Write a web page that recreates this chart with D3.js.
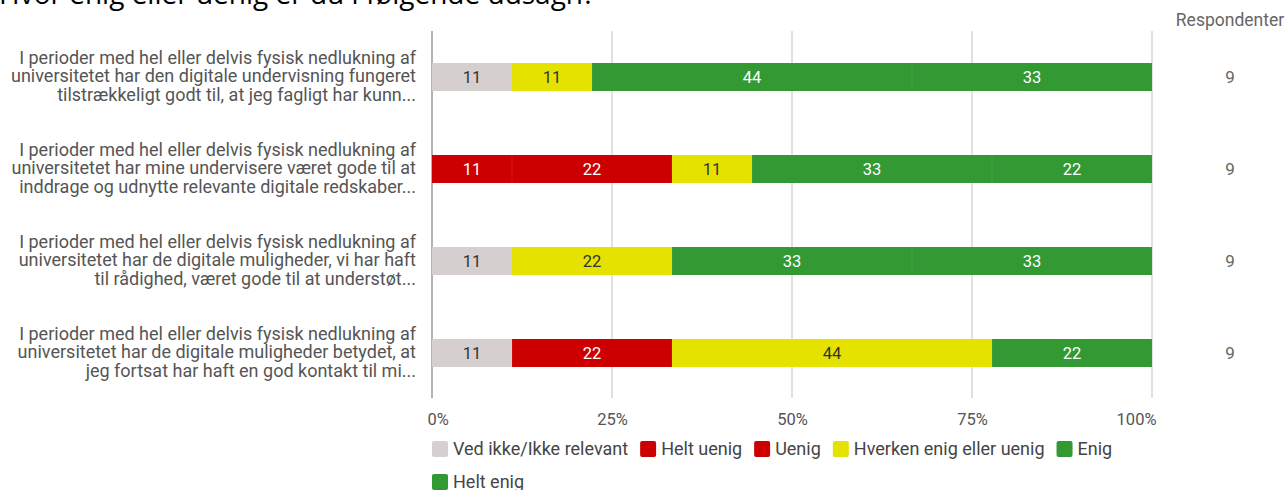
<!DOCTYPE html>
<html>
<head>
<meta charset="utf-8">
<script src="https://cdn.jsdelivr.net/npm/d3@7"></script>
<style>
  html, body { margin: 0; padding: 0; background: #fff; }
  svg { display: block; }
</style>
</head>
<body>
<svg id="chart" width="1288" height="490"></svg>
<script>
const title = "Hvor enig eller uenig er du i følgende udsagn?";
const questions = [
  ["I perioder med hel eller delvis fysisk nedlukning af", "universitetet har den digitale undervisning fungeret", "tilstrækkeligt godt til, at jeg fagligt har kunn..."],
  ["I perioder med hel eller delvis fysisk nedlukning af", "universitetet har mine undervisere været gode til at", "inddrage og udnytte relevante digitale redskaber..."],
  ["I perioder med hel eller delvis fysisk nedlukning af", "universitetet har de digitale muligheder, vi har haft", "til rådighed, været gode til at understøt..."],
  ["I perioder med hel eller delvis fysisk nedlukning af", "universitetet har de digitale muligheder betydet, at", "jeg fortsat har haft en god kontakt til mi..."]
];
const seriesNames = ["Ved ikke/Ikke relevant", "Helt uenig", "Uenig", "Hverken enig eller uenig", "Enig", "Helt enig"];
const seriesColors = ["#d6cfcf", "#cc0000", "#cc0000", "#e6e200", "#339933", "#339933"];
const seriesTextColors = ["#333", "#fff", "#fff", "#333", "#fff", "#fff"];
// percent values shown in each segment (per question)
const vedIkke    = [11, 0, 11, 11];
const heltUenig  = [0, 11, 0, 0];
const uenig      = [0, 22, 0, 22];
const hverken    = [11, 11, 22, 44];
const enig       = [44, 33, 33, 22];
const heltEnig   = [33, 22, 33, 0];
const respondents = [9, 9, 9, 9];
const tickValues = [0, 0.25, 0.5, 0.75, 1];
const tickLabels = ["0%", "25%", "50%", "75%", "100%"];
const respHeader = "Respondenter";

const seriesValues = [vedIkke, heltUenig, uenig, hverken, enig, heltEnig];
const table = questions.map((q, i) => {
  const row = { idx: i };
  seriesNames.forEach((s, j) => row[s] = seriesValues[j][i]);
  return row;
});

const svg = d3.select("#chart");
const font = "Roboto, 'Noto Sans', sans-serif";

const x = d3.scaleLinear().domain([0, 1]).range([432, 1152]);
const y = d3.scaleBand().domain(d3.range(questions.length)).range([31, 399]).paddingInner(0.696).paddingOuter(0.348);

// title (cut off at top as in reference)
svg.append("text").attr("x", -1).attr("y", 4)
  .attr("font-family", "'Open Sans', sans-serif").attr("font-size", 28).attr("fill", "#000")
  .text(title);

// gridlines
svg.append("g").selectAll("line").data(tickValues).join("line")
  .attr("x1", d => x(d)).attr("x2", d => x(d))
  .attr("y1", 31).attr("y2", 398)
  .attr("stroke", d => d === 0 ? "#999" : "#ccc").attr("stroke-width", d => d === 0 ? 1.5 : 1.2);

// stacked bars
const stack = d3.stack().keys(seriesNames).offset(d3.stackOffsetExpand);
const stacked = stack(table);

const g = svg.append("g");
stacked.forEach((layer, j) => {
  const lg = g.append("g");
  layer.forEach((seg, i) => {
    const w = x(seg[1]) - x(seg[0]);
    if (w <= 0.01) return;
    lg.append("rect")
      .attr("x", x(seg[0])).attr("y", y(i))
      .attr("width", w).attr("height", y.bandwidth())
      .attr("fill", seriesColors[j]);
    lg.append("text")
      .attr("x", (x(seg[0]) + x(seg[1])) / 2).attr("y", y(i) + y.bandwidth() / 2)
      .attr("dy", "0.36em").attr("text-anchor", "middle")
      .attr("font-family", font).attr("font-size", 16.5)
      .attr("fill", seriesTextColors[j])
      .text(seriesValues[j][i]);
  });
});
// thin separators between segments
stacked.forEach((layer, j) => {
  layer.forEach((seg, i) => {
    if (j === 0 || seg[1] - seg[0] <= 0 || seg[0] <= 0) return;
    g.append("line").attr("x1", x(seg[0])).attr("x2", x(seg[0]))
      .attr("y1", y(i)).attr("y2", y(i) + y.bandwidth())
      .attr("stroke", "rgba(255,255,255,0.08)").attr("stroke-width", 1);
  });
});

// question labels
const lab = svg.append("g");
questions.forEach((lines, i) => {
  const cy = y(i) + y.bandwidth() / 2;
  const t = lab.append("text").attr("text-anchor", "end")
    .attr("font-family", font).attr("font-size", 18).attr("fill", "#555");
  lines.forEach((ln, k) => {
    t.append("tspan").attr("x", 416).attr("y", cy - 1 + (k - 1) * 18.8).attr("dy", "0.36em").text(ln);
  });
});

// respondents column
svg.append("text").attr("x", 1230).attr("y", 20).attr("dy", "0.36em")
  .attr("text-anchor", "middle").attr("font-family", font).attr("font-size", 17.5).attr("fill", "#666")
  .text(respHeader);
svg.append("g").selectAll("text").data(respondents).join("text")
  .attr("x", 1230).attr("y", (d, i) => y(i) + y.bandwidth() / 2).attr("dy", "0.36em")
  .attr("text-anchor", "middle").attr("font-family", font).attr("font-size", 17).attr("fill", "#666")
  .text(d => d);

// x axis
const axis = d3.axisBottom(x).tickValues(tickValues).tickSize(0).tickFormat((d, i) => tickLabels[i]);
const ag = svg.append("g").attr("transform", "translate(0,410)").call(axis);
ag.select(".domain").remove();
ag.selectAll("text").attr("font-family", font).attr("font-size", 16.5).attr("fill", "#555").attr("dy", "0.71em");
ag.selectAll(".tick").filter((d, i) => i === 0).select("text").attr("text-anchor", "start").attr("x", -5);
ag.selectAll(".tick").filter((d, i) => i === tickValues.length - 1).select("text").attr("text-anchor", "end").attr("x", 4);

// legend
const legend = svg.append("g").attr("font-family", font).attr("font-size", 18).attr("fill", "#444");
let lx = 432, ly = 449;
const maxX = 1160;
seriesNames.forEach((name, j) => {
  const item = legend.append("g");
  const txt = item.append("text").attr("x", 21).attr("y", 0).attr("dy", "0.36em").text(name);
  const tw = txt.node().getComputedTextLength();
  const iw = 21 + tw;
  if (lx + iw > maxX) { lx = 432; ly += 33; }
  item.attr("transform", `translate(${lx},${ly})`);
  item.insert("rect", "text").attr("x", 0).attr("y", -8).attr("width", 16).attr("height", 16)
    .attr("rx", 2).attr("fill", seriesColors[j]);
  lx += iw + 12;
});
</script>
</body>
</html>
